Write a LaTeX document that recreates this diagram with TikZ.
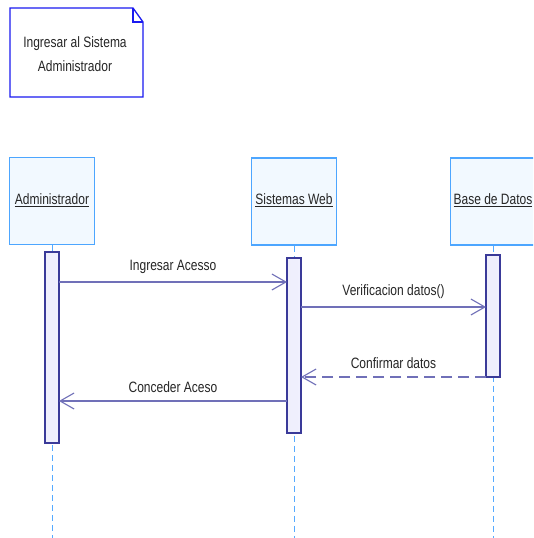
\documentclass[tikz,border=0pt]{standalone}
\usepackage{fontspec}
\usepackage{graphicx}
\setmainfont{Liberation Sans}
\usetikzlibrary{arrows.meta}
\definecolor{headline}{HTML}{4DA6FF}
\definecolor{headfill}{HTML}{F2F9FF}
\definecolor{notecol}{HTML}{1A1AF0}
\definecolor{actline}{HTML}{3A3A99}
\definecolor{actfill}{HTML}{E4E4FA}
\definecolor{msgcol}{HTML}{7070B8}
\definecolor{lifecol}{HTML}{55AAFF}
\newcommand{\narrowtxt}[1]{\scalebox{0.8}[1]{#1}}
\tikzset{
  headbox/.style={draw=headline, fill=headfill, line width=1.5pt, minimum width=85pt, minimum height=87pt, inner sep=0pt},
  actbar/.style={draw=actline, line width=1.3pt, left color=actfill!60!white, right color=actfill!85!blue!25, minimum width=14pt, inner sep=0pt},
  lifeln/.style={draw=lifecol, dash pattern=on 6pt off 4pt, line width=1pt},
  msg/.style={draw=msgcol, line width=1.2pt, -{Straight Barb[length=14pt, width=16pt, line width=1.1pt]}},
  rmsg/.style={msg, dash pattern=on 11pt off 6pt},
  lbl/.style={font=\fontsize{15}{17}\selectfont, text=black!85, inner sep=1pt},
  headlbl/.style={font=\fontsize{15}{24}\selectfont, text=black!85}
}
\begin{document}
\begin{tikzpicture}[x=1pt,y=-1pt]
\clip (0,0) rectangle (533,538);
\fill[white] (0,0) rectangle (533,538);
% note
\coordinate (n1) at (10,8);
\coordinate (n2) at (133,8);
\coordinate (n3) at (143,22);
\coordinate (n4) at (143,97);
\coordinate (n5) at (10,97);
\draw[notecol, line width=1.3pt, fill=white] (n1) -- (n2) -- (n3) -- (n4) -- (n5) -- cycle;
\draw[notecol, line width=1.3pt] (n2) -- (133,22) -- (n3);
\node[headlbl, align=center] (note) at (75,54) {\narrowtxt{Ingresar al Sistema}\\\narrowtxt{Administrador}};
% lifelines
\coordinate (adbot) at (52,538);
\coordinate (webbot) at (294,538);
\coordinate (bdbot) at (493,538);
\node[headbox] (ad) at (52,201) {};
\node[headbox] (web) at (294,201.5) {};
\node[headbox] (bd) at (493,201.5) {};
\node[headlbl] (adt) at (52,200) {\narrowtxt{\underline{Administrador}}};
\node[headlbl] (webt) at (294,200) {\narrowtxt{\underline{Sistemas Web}}};
\node[headlbl] (bdt) at (493,200) {\narrowtxt{\underline{Base de Datos}}};
\draw[lifeln] (ad.south) -- (adbot);
\draw[lifeln] (web.south) -- (webbot);
\draw[lifeln] (bd.south) -- (bdbot);
% activation bars
\node[actbar, minimum height=191pt] (aa) at (52,347.5) {};
\node[actbar, minimum height=175pt] (aw) at (294,345.5) {};
\node[actbar, minimum height=122pt] (ab) at (493,316) {};
% messages
\coordinate (m1s) at (59,282);
\coordinate (m1e) at (287,282);
\draw[msg] (m1s) -- (m1e) node[lbl, midway, above=7pt] {\narrowtxt{Ingresar Acesso}};
\coordinate (m2s) at (301,307);
\coordinate (m2e) at (486,307);
\draw[msg] (m2s) -- (m2e) node[lbl, midway, above=7pt] {\narrowtxt{Verificacion datos()}};
\coordinate (m3s) at (486,377);
\coordinate (m3e) at (301,377);
\draw[rmsg] (m3s) -- (m3e) node[lbl, midway, above=7pt] {\narrowtxt{Confirmar datos}};
\coordinate (m4s) at (287,401);
\coordinate (m4e) at (59,401);
\draw[msg] (m4s) -- (m4e) node[lbl, midway, above=7pt] {\narrowtxt{Conceder Aceso}};
\end{tikzpicture}
\end{document}
